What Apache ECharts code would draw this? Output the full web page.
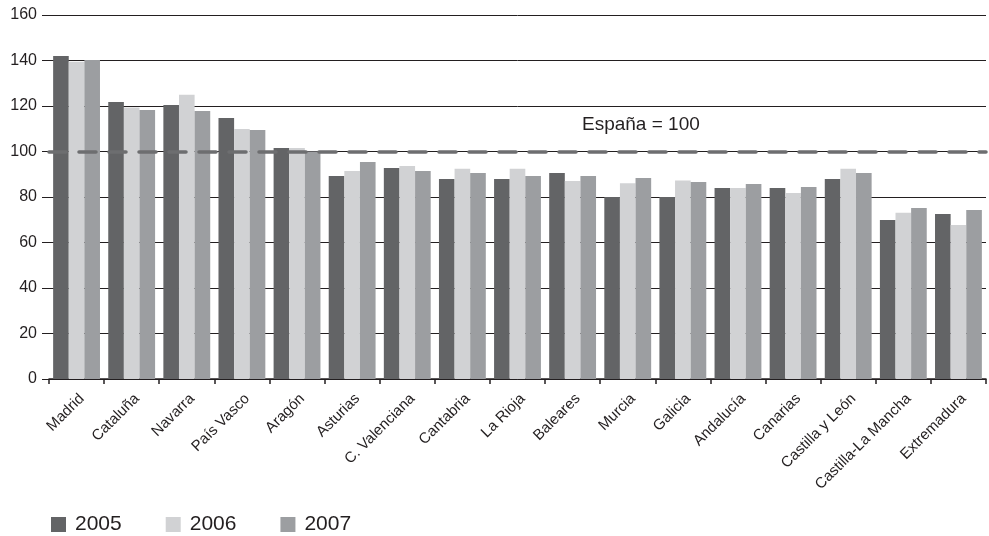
<!DOCTYPE html>
<html>
<head>
<meta charset="utf-8">
<script src="https://cdn.jsdelivr.net/npm/echarts@6/dist/echarts.min.js"></script>
<style>
  html, body { margin: 0; padding: 0; background: #fff; }
  #chart { width: 989px; height: 536px; }
</style>
</head>
<body>
<div id="chart"></div>
<script>
  // regiones ordenadas como en el original
  var regiones = ['Madrid', 'Cataluña', 'Navarra', 'País Vasco', 'Aragón', 'Asturias',
    'C. Valenciana', 'Cantabria', 'La Rioja', 'Baleares', 'Murcia', 'Galicia',
    'Andalucía', 'Canarias', 'Castilla y León', 'Castilla-La Mancha', 'Extremadura'];
  var anios = ['2005', '2006', '2007'];
  var datos2005 = [142, 121.8, 120.4, 114.7, 101.5, 89.2, 92.7, 87.9, 87.9, 90.5, 80, 80, 84, 84, 87.9, 69.9, 72.5];
  var datos2006 = [139.5, 119.3, 125, 109.9, 101.5, 91.4, 93.6, 92.4, 92.4, 87, 86, 87.2, 84, 81.8, 92.4, 73.1, 67.7];
  var datos2007 = [140.2, 118.2, 117.8, 109.5, 100, 95.4, 91.4, 90.5, 89.2, 89.2, 88.4, 86.6, 85.7, 84.4, 90.5, 75.2, 74.3];
  var referencia = 100;
  var colores = ['#636466', '#d1d2d4', '#9c9ea1'];

  var chart = echarts.init(document.getElementById('chart'));
  var fuente = '"Liberation Sans", Arial, Helvetica, sans-serif';

  var series = [datos2005, datos2006, datos2007].map(function (d, i) {
    var s = {
      name: anios[i],
      type: 'bar',
      data: d,
      barGap: '0%',
      barCategoryGap: '15%',
      itemStyle: { color: colores[i] },
    };
    if (i === 0) {
      s.markLine = {
        silent: true,
        symbol: 'none',
        z: 10,
        lineStyle: { color: '#6d6e70', width: 3.5, type: [17, 13], cap: 'round' },
        label: { show: false },
        data: [{ yAxis: referencia }],
      };
    }
    return s;
  });

  var option = {
    animation: false,
    textStyle: { fontFamily: fuente },
    color: colores,
    grid: { left: 49, right: 3, top: 15, bottom: 157 },
    legend: {
      data: anios,
      left: 46,
      bottom: -4,
      icon: 'rect',
      itemWidth: 15,
      itemHeight: 15,
      itemGap: 44,
      textStyle: { fontSize: 21, color: '#231f20', fontFamily: fuente, padding: [0, 0, 0, 4] },
    },
    xAxis: {
      type: 'category',
      data: regiones,
      axisLine: { lineStyle: { color: '#231f20', width: 1.5 } },
      axisTick: { show: true, length: 5, lineStyle: { color: '#231f20', width: 1.5 } },
      axisLabel: { rotate: 45, fontSize: 15, color: '#231f20', margin: 12, verticalAlign: 'top', fontFamily: fuente },
    },
    yAxis: {
      type: 'value',
      min: 0,
      max: 160,
      interval: 20,
      axisLine: { show: false },
      axisTick: { show: true, length: 7, lineStyle: { color: '#231f20' } },
      axisLabel: { fontSize: 16, color: '#231f20', margin: 12, fontFamily: fuente },
      splitLine: { lineStyle: { color: '#231f20', width: 1 } },
    },
    graphic: [{
      type: 'text',
      left: 582,
      top: 115,
      style: { text: 'España = 100', fontSize: 19, fill: '#231f20', fontFamily: fuente },
    }],
    series: series,
  };
  chart.setOption(option);
</script>
</body>
</html>
